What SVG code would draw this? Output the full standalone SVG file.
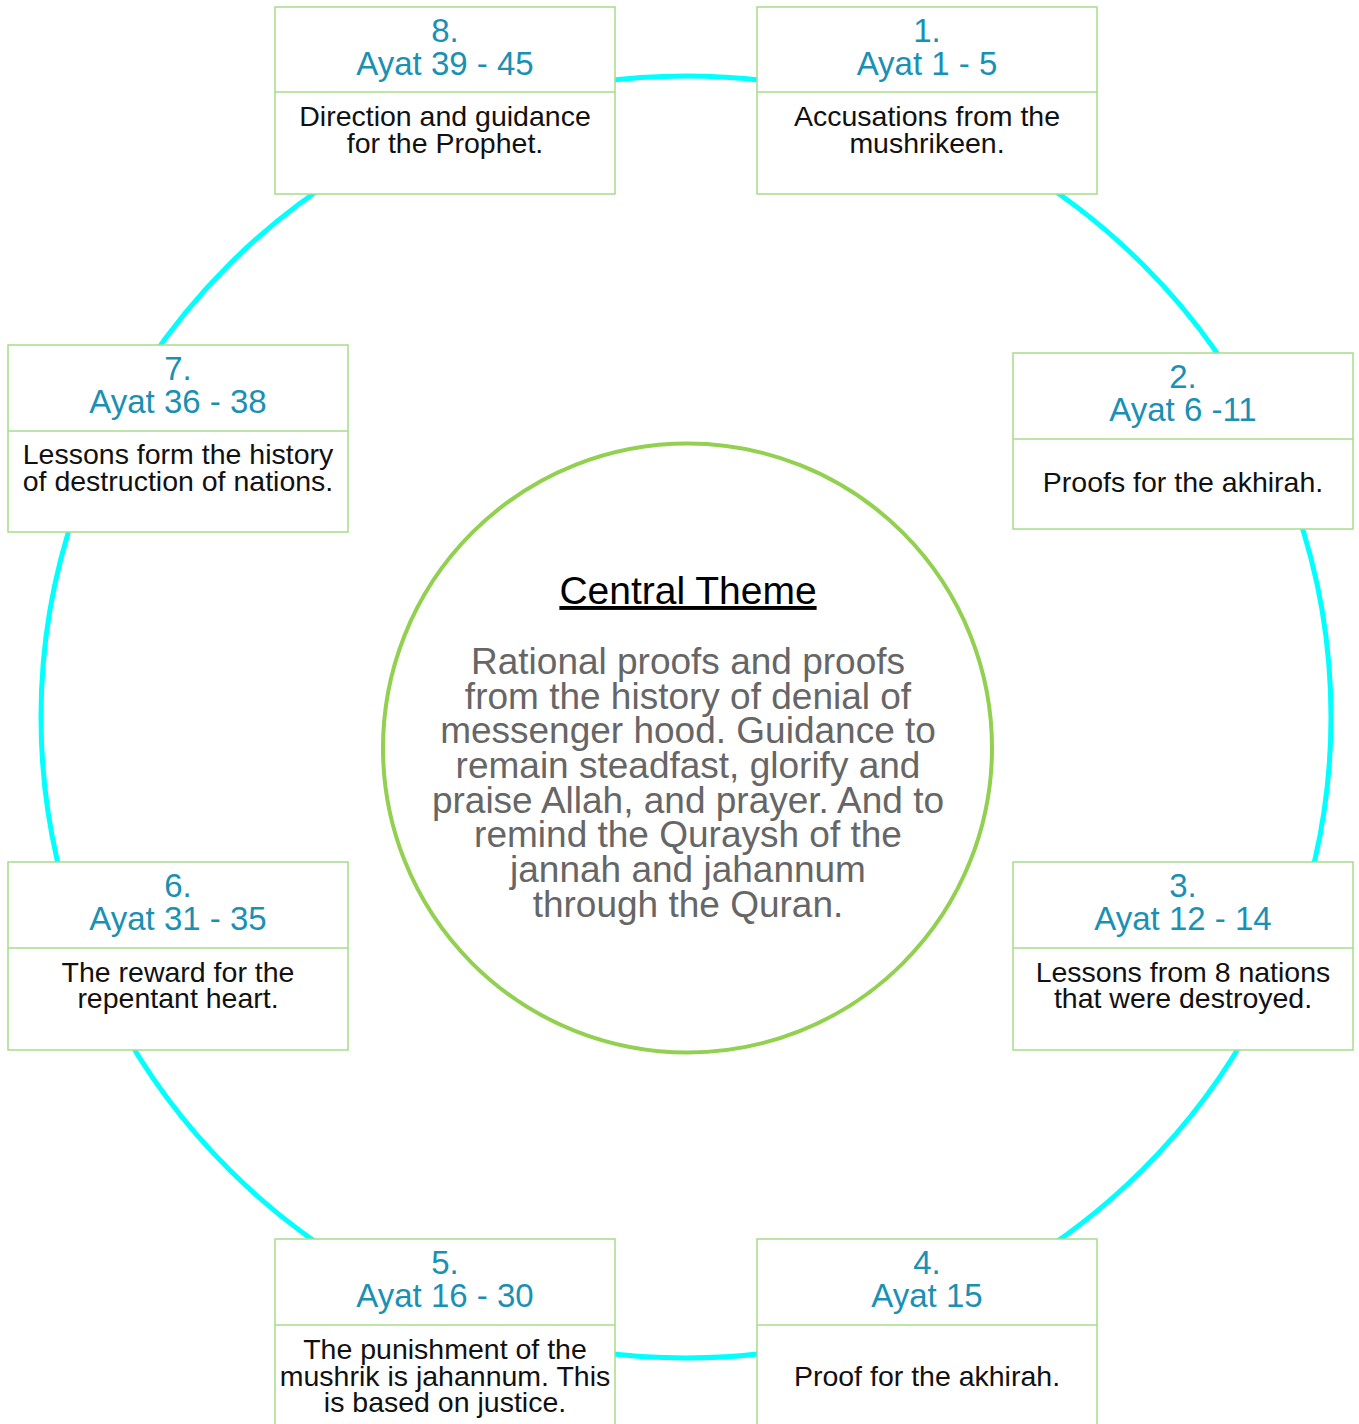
<svg xmlns="http://www.w3.org/2000/svg" width="1359" height="1424" viewBox="0 0 1359 1424">
<style>
.box{fill:#ffffff;stroke:#a6dc8a;stroke-width:1.5}
.div{stroke:#a6dc8a;stroke-width:1.5}
.hd{font-family:"Liberation Sans",Arial,sans-serif;font-size:33px;fill:#1a90b4;text-anchor:middle}
.bd{font-family:"Liberation Sans",Arial,sans-serif;font-size:28.5px;fill:#111111;text-anchor:middle}
.ttl{font-family:"Liberation Sans",Arial,sans-serif;font-size:39px;fill:#000000;text-anchor:middle;text-decoration:underline}
.ct{font-family:"Liberation Sans",Arial,sans-serif;font-size:37px;fill:#666666;text-anchor:middle}
</style>
<rect width="1359" height="1424" fill="#ffffff"/>
<g id="connectors">
<ellipse cx="686" cy="717" rx="645" ry="641" fill="none" stroke="#00ffff" stroke-width="5"/>
</g>
<g id="center">
<circle cx="687.5" cy="748" r="304.5" fill="#ffffff" stroke="#92d050" stroke-width="4"/>
<text class="ttl" x="688" y="604">Central Theme</text>
<text class="ct" x="688" y="674">Rational proofs and proofs</text>
<text class="ct" x="688" y="709">from the history of denial of</text>
<text class="ct" x="688" y="743">messenger hood. Guidance to</text>
<text class="ct" x="688" y="778">remain steadfast, glorify and</text>
<text class="ct" x="688" y="813">praise Allah, and prayer. And to</text>
<text class="ct" x="688" y="847">remind the Quraysh of the</text>
<text class="ct" x="688" y="882">jannah and jahannum</text>
<text class="ct" x="688" y="917">through the Quran.</text>
</g>
<g id="node1">
<rect class="box" x="757" y="7" width="340" height="187"/>
<line class="div" x1="757" y1="92" x2="1097" y2="92"/>
<text class="hd" x="927" y="42">1.</text>
<text class="hd" x="927" y="75">Ayat 1 - 5</text>
<text class="bd" x="927" y="126">Accusations from the</text>
<text class="bd" x="927" y="153">mushrikeen.</text>
</g>
<g id="node2">
<rect class="box" x="1013" y="353" width="340" height="176"/>
<line class="div" x1="1013" y1="439" x2="1353" y2="439"/>
<text class="hd" x="1183" y="388">2.</text>
<text class="hd" x="1183" y="421">Ayat 6 -11</text>
<text class="bd" x="1183" y="492">Proofs for the akhirah.</text>
</g>
<g id="node3">
<rect class="box" x="1013" y="862" width="340" height="188"/>
<line class="div" x1="1013" y1="948" x2="1353" y2="948"/>
<text class="hd" x="1183" y="897">3.</text>
<text class="hd" x="1183" y="930">Ayat 12 - 14</text>
<text class="bd" x="1183" y="982">Lessons from 8 nations</text>
<text class="bd" x="1183" y="1008">that were destroyed.</text>
</g>
<g id="node4">
<rect class="box" x="757" y="1239" width="340" height="200"/>
<line class="div" x1="757" y1="1325" x2="1097" y2="1325"/>
<text class="hd" x="927" y="1274">4.</text>
<text class="hd" x="927" y="1307">Ayat 15</text>
<text class="bd" x="927" y="1386">Proof for the akhirah.</text>
</g>
<g id="node5">
<rect class="box" x="275" y="1239" width="340" height="200"/>
<line class="div" x1="275" y1="1325" x2="615" y2="1325"/>
<text class="hd" x="445" y="1274">5.</text>
<text class="hd" x="445" y="1307">Ayat 16 - 30</text>
<text class="bd" x="445" y="1359">The punishment of the</text>
<text class="bd" x="445" y="1386">mushrik is jahannum. This</text>
<text class="bd" x="445" y="1412">is based on justice.</text>
</g>
<g id="node6">
<rect class="box" x="8" y="862" width="340" height="188"/>
<line class="div" x1="8" y1="948" x2="348" y2="948"/>
<text class="hd" x="178" y="897">6.</text>
<text class="hd" x="178" y="930">Ayat 31 - 35</text>
<text class="bd" x="178" y="982">The reward for the</text>
<text class="bd" x="178" y="1008">repentant heart.</text>
</g>
<g id="node7">
<rect class="box" x="8" y="345" width="340" height="187"/>
<line class="div" x1="8" y1="431" x2="348" y2="431"/>
<text class="hd" x="178" y="380">7.</text>
<text class="hd" x="178" y="413">Ayat 36 - 38</text>
<text class="bd" x="178" y="464">Lessons form the history</text>
<text class="bd" x="178" y="491">of destruction of nations.</text>
</g>
<g id="node8">
<rect class="box" x="275" y="7" width="340" height="187"/>
<line class="div" x1="275" y1="92" x2="615" y2="92"/>
<text class="hd" x="445" y="42">8.</text>
<text class="hd" x="445" y="75">Ayat 39 - 45</text>
<text class="bd" x="445" y="126">Direction and guidance</text>
<text class="bd" x="445" y="153">for the Prophet.</text>
</g>
</svg>
